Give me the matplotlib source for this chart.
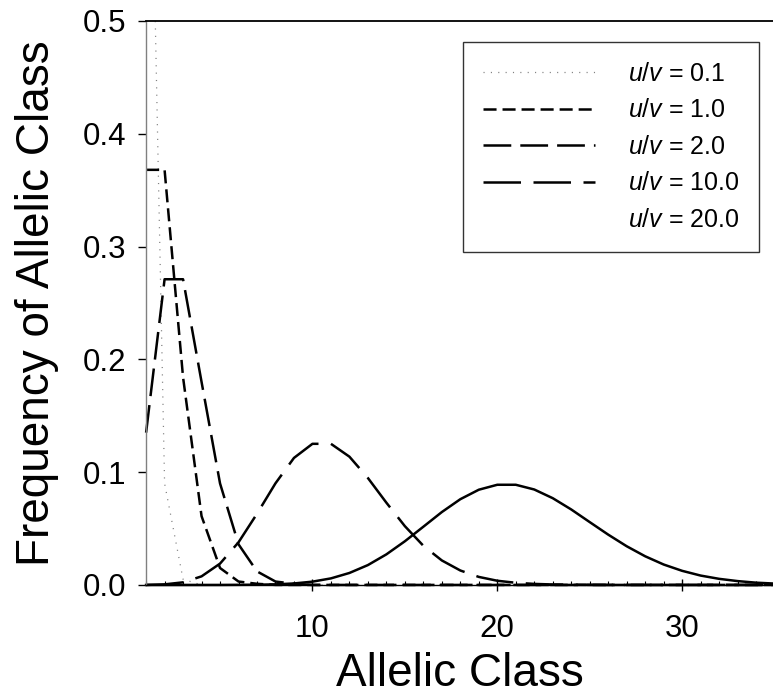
import matplotlib
matplotlib.use("Agg")
import matplotlib.pyplot as plt
from matplotlib.lines import Line2D

plt.rcParams['font.family'] = ['Liberation Sans', 'DejaVu Sans']
plt.rcParams['lines.scale_dashes'] = False
plt.rcParams['mathtext.fontset'] = 'custom'
plt.rcParams['mathtext.rm'] = 'Liberation Sans'
plt.rcParams['mathtext.it'] = 'Liberation Sans:italic'

# allelic classes 1..35 and frequencies
allelic_class = list(range(1, 36))

freq_01 = [0.905, 0.090, 0.005, 0.0, 0.0, 0.0, 0.0, 0.0, 0.0, 0.0,
           0.0, 0.0, 0.0, 0.0, 0.0, 0.0, 0.0, 0.0, 0.0, 0.0,
           0.0, 0.0, 0.0, 0.0, 0.0, 0.0, 0.0, 0.0, 0.0, 0.0,
           0.0, 0.0, 0.0, 0.0, 0.0]
freq_1 = [0.368, 0.368, 0.184, 0.061, 0.015, 0.003, 0.001, 0.0, 0.0, 0.0,
          0.0, 0.0, 0.0, 0.0, 0.0, 0.0, 0.0, 0.0, 0.0, 0.0,
          0.0, 0.0, 0.0, 0.0, 0.0, 0.0, 0.0, 0.0, 0.0, 0.0,
          0.0, 0.0, 0.0, 0.0, 0.0]
freq_2 = [0.135, 0.271, 0.271, 0.180, 0.090, 0.036, 0.012, 0.003, 0.001, 0.0,
          0.0, 0.0, 0.0, 0.0, 0.0, 0.0, 0.0, 0.0, 0.0, 0.0,
          0.0, 0.0, 0.0, 0.0, 0.0, 0.0, 0.0, 0.0, 0.0, 0.0,
          0.0, 0.0, 0.0, 0.0, 0.0]
freq_10 = [0.0000, 0.0005, 0.0023, 0.0076, 0.0189, 0.0378, 0.0631, 0.0901, 0.1126, 0.1251,
           0.1251, 0.1137, 0.0948, 0.0729, 0.0521, 0.0347, 0.0217, 0.0128, 0.0071, 0.0037,
           0.0019, 0.0009, 0.0004, 0.0002, 0.0001, 0.0, 0.0, 0.0, 0.0, 0.0,
           0.0, 0.0, 0.0, 0.0, 0.0]
freq_20 = [0.0, 0.0, 0.0, 0.0, 0.0, 0.0001, 0.0002, 0.0005, 0.0013, 0.0029,
           0.0058, 0.0106, 0.0176, 0.0271, 0.0387, 0.0516, 0.0646, 0.0760, 0.0844, 0.0888,
           0.0888, 0.0846, 0.0769, 0.0669, 0.0557, 0.0446, 0.0343, 0.0254, 0.0181, 0.0125,
           0.0083, 0.0054, 0.0034, 0.0020, 0.0012]

labels = ["0.1", "1.0", "2.0", "10.0", "20.0"]

fig = plt.figure(figsize=(7.73, 6.98), dpi=100)
ax = fig.add_axes([0.189, 0.162, 0.813, 0.808])

ax.plot(allelic_class, freq_01, color='#808080', lw=0.9, dashes=(0.8, 4.5))
ax.plot(allelic_class, freq_1, color='black', lw=1.8, dashes=(9.4, 4.3), clip_on=False)
ax.plot(allelic_class, freq_2, color='black', lw=1.8, dashes=(20, 6.5), clip_on=False)
ax.plot(allelic_class, freq_10, color='black', lw=1.8, dashes=(27, 9), clip_on=False)
ax.plot(allelic_class, freq_20, color='black', lw=1.8, clip_on=False)

ax.set_xlim(1, 35)
ax.set_ylim(0, 0.5)
ax.set_xticks([10, 20, 30])
ax.set_xticks(allelic_class, minor=True)
ax.set_yticks([0.0, 0.1, 0.2, 0.3, 0.4, 0.5])
ax.set_yticklabels(["0.0", "0.1", "0.2", "0.3", "0.4", "0.5"])

ax.tick_params(axis='x', which='major', direction='inout', length=8, width=1,
               labelsize=22.5, pad=17)
ax.tick_params(axis='x', which='minor', direction='in', length=3, width=0.8)
ax.tick_params(axis='y', which='major', direction='out', length=6, width=1,
               labelsize=22.5, pad=8)

ax.spines['right'].set_visible(False)
ax.spines['left'].set_color('#808080')
ax.spines['left'].set_linewidth(1.0)
ax.spines['top'].set_linewidth(1.3)
ax.spines['bottom'].set_linewidth(1.0)

ax.set_xlabel("Allelic Class", fontsize=33, labelpad=6)
ax.set_ylabel("Frequency of Allelic Class", fontsize=33, labelpad=17)

handles = [
    Line2D([], [], color='#808080', lw=0.9, dashes=(0.8, 4.5)),
    Line2D([], [], color='black', lw=1.8, dashes=(9.4, 4.3)),
    Line2D([], [], color='black', lw=1.8, dashes=(20, 6.5)),
    Line2D([], [], color='black', lw=1.8, dashes=(27, 9)),
    Line2D([], [], color='none', lw=1.8),
]
leg = ax.legend(handles, [f"$u/v$ = {lab}" for lab in labels],
                loc='upper right', bbox_to_anchor=(0.976, 0.963),
                fontsize=18, frameon=True, fancybox=False, handlelength=4.5,
                handletextpad=1.3, borderpad=0.8, labelspacing=0.5,
                borderaxespad=0)
leg.get_frame().set_edgecolor('black')
leg.get_frame().set_linewidth(1.0)

fig.savefig("out.png", dpi=100)
